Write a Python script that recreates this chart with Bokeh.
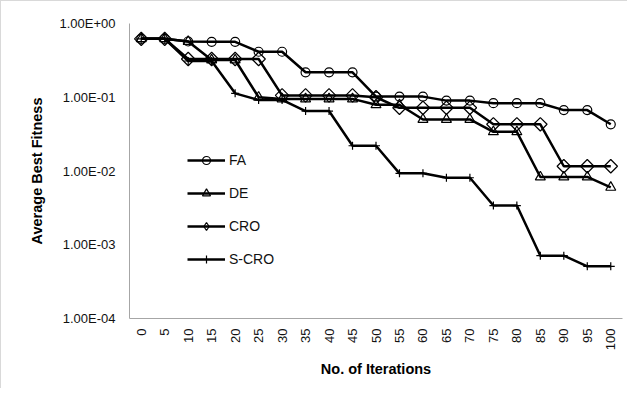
import math
from bokeh.plotting import figure
from bokeh.models import (Range1d, FixedTicker, CustomJSTickFormatter, Legend, LegendItem,
                          ColumnDataSource)
from bokeh.embed import file_html
from bokeh.resources import INLINE

iterations = [0, 5, 10, 15, 20, 25, 30, 35, 40, 45, 50, 55, 60, 65, 70, 75, 80, 85, 90, 95, 100]
fa = [0.62, 0.62, 0.57, 0.565, 0.565, 0.414, 0.414, 0.218, 0.218, 0.218, 0.102, 0.102, 0.102,
      0.090, 0.090, 0.083, 0.083, 0.083, 0.067, 0.067, 0.043]
de = [0.62, 0.62, 0.57, 0.32, 0.32, 0.10, 0.095, 0.095, 0.095, 0.095, 0.079, 0.079, 0.050,
      0.050, 0.050, 0.034, 0.034, 0.0083, 0.0083, 0.0083, 0.006]
cro = [0.62, 0.62, 0.33, 0.33, 0.33, 0.33, 0.106, 0.106, 0.106, 0.106, 0.10, 0.072, 0.072,
       0.072, 0.072, 0.043, 0.043, 0.043, 0.0116, 0.0116, 0.0116]
scro = [0.62, 0.62, 0.31, 0.31, 0.113, 0.092, 0.092, 0.065, 0.065, 0.022, 0.022, 0.0093, 0.0093,
        0.0081, 0.0081, 0.0034, 0.0034, 0.00071, 0.00071, 0.00051, 0.00051]
y_ticks = [1e-4, 1e-3, 1e-2, 1e-1, 1.0]
series_names = ["FA", "DE", "CRO", "S-CRO"]

FONT = "Liberation Sans"
AXIS_COLOR = "#a6a6a6"

p = figure(width=627, height=388, output_backend="svg", toolbar_location=None,
           y_axis_type="log", x_range=Range1d(-2.5, 102.5), y_range=Range1d(1e-4, 1.0),
           min_border_left=128, min_border_top=22, min_border_right=6, min_border_bottom=71)
p.outline_line_color = None
p.xgrid.visible = False
p.ygrid.visible = False
p.styles = {"border-left": "1px solid #d9d9d9", "border-top": "1px solid #d9d9d9"}

lw = 2.5
mk_lw = 1.2
items = []
specs = [
    (fa, dict(marker="circle", size=9, angle=0, legend_marker="circle")),
    (de, dict(marker="triangle", size=10, angle=0, legend_marker="triangle")),
    (cro, dict(marker="square", size=9.5, angle=math.pi / 4, legend_marker="diamond")),
    (scro, dict(marker="cross", size=8, angle=0, legend_marker="cross")),
]
for name, (ys, mk) in zip(series_names, specs):
    r_line = p.line(iterations, ys, line_color="black", line_width=lw)
    r_pts = p.scatter(iterations, ys, marker=mk["marker"], size=mk["size"], angle=mk["angle"],
                      line_color="black", line_width=mk_lw, fill_alpha=0)
    if mk["legend_marker"] == mk["marker"] and mk["angle"] == 0:
        rs = [r_line, r_pts]
    else:
        # legend-only glyph (not drawn on the plot: NaN position)
        leg_src = ColumnDataSource(data=dict(x=[float("nan")], y=[float("nan")]))
        r_leg = p.scatter("x", "y", source=leg_src, marker=mk["legend_marker"], size=10,
                          line_color="black", line_width=mk_lw, fill_alpha=0)
        rs = [r_line, r_leg]
    items.append(LegendItem(label=name, renderers=rs))

legend = Legend(items=items, location=(58, 49), padding=0, margin=0, spacing=13,
                glyph_height=20, glyph_width=38, label_standoff=4,
                border_line_color=None, background_fill_alpha=0,
                label_text_font=FONT, label_text_font_size="14px", label_text_color="#111111")
p.add_layout(legend, "center")

# x axis
p.xaxis.ticker = FixedTicker(ticks=iterations)
p.xaxis.major_label_orientation = math.pi / 2
p.xaxis.axis_label = "No. of Iterations"
p.xaxis.major_label_standoff = 10
p.xaxis.axis_label_standoff = 8

# y axis
p.yaxis.ticker = FixedTicker(ticks=y_ticks)
p.yaxis.minor_tick_line_color = None
p.yaxis.formatter = CustomJSTickFormatter(code="""
const e = Math.round(Math.log10(tick));
const m = tick / Math.pow(10, e);
const a = Math.abs(e);
return m.toFixed(2) + 'E' + (e < 0 ? '-' : '+') + (a < 10 ? '0' : '') + a;
""")
p.yaxis.axis_label = "Average Best Fitness"
p.yaxis.major_label_standoff = 14
p.yaxis.axis_label_standoff = 11

for ax in (p.xaxis, p.yaxis):
    ax.axis_line_color = AXIS_COLOR
    ax.axis_line_width = 1
    ax.major_tick_line_color = None
    ax.major_tick_out = 0
    ax.major_tick_in = 0
    ax.minor_tick_line_color = None
    ax.major_label_text_font = FONT
    ax.major_label_text_font_size = "13px"
    ax.major_label_text_color = "#111111"
    ax.axis_label_text_font = FONT
    ax.axis_label_text_font_size = "14.5px"
    ax.axis_label_text_font_style = "bold"
    ax.axis_label_text_color = "#000000"

open("out.html", "w").write(file_html(p, INLINE))
